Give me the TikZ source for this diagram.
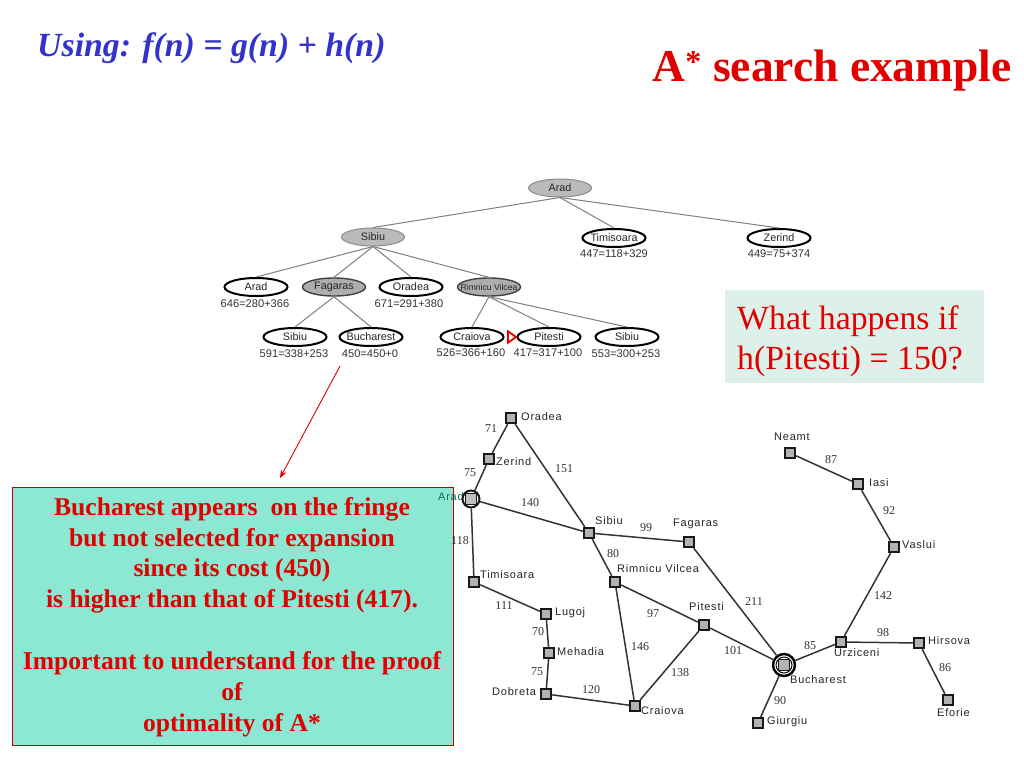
\documentclass[tikz,border=0pt]{standalone}
\usepackage{fontspec}
\setmainfont{Liberation Serif}
\newfontfamily\sansf{Liberation Sans}
\newfontfamily\cityf[LetterSpace=7]{Liberation Sans}
\usetikzlibrary{shapes.geometric,arrows.meta}
\definecolor{titleblue}{HTML}{3333CC}
\definecolor{redtxt}{HTML}{E00000}
\definecolor{tealbox}{HTML}{8CE8D2}
\definecolor{palebox}{HTML}{DDF1EA}
\definecolor{aradgreen}{HTML}{0B6B5B}
\newcommand{\nm}[1]{\makebox[0pt][c]{#1}}
\tikzset{
 x=1pt,y=-1pt,
 treeedge/.style={draw=black!50,line width=1pt},
 mapedge/.style={draw=black!80,line width=1.5pt},
 ell/.style={ellipse,minimum width=63pt,minimum height=18pt,inner sep=0pt,font=\sansf\fontsize{10.8}{11}\selectfont,text=black!85},
 leaf/.style={ell,draw=black,line width=2pt,fill=white},
 seen/.style={ell,draw=black!45,line width=1pt,fill=black!27},
 seendark/.style={ell,draw=black!75,line width=1.4pt,fill=black!32},
 cost/.style={font=\sansf\fontsize{11.1}{11}\selectfont,text=black!80,inner sep=0pt},
 city/.style={rectangle,draw=black!90,line width=1.9pt,fill=black!30,minimum size=10.5pt,inner sep=0pt},
 cname/.style={anchor=west,inner sep=0pt,font=\cityf\fontsize{11}{11}\selectfont,text=black!85},
 dist/.style={inner sep=0pt,font=\fontsize{12}{12}\selectfont,text=black!80},
}
\begin{document}
\begin{tikzpicture}
\useasboundingbox (0,0) rectangle (1024,768);
\fill[white] (0,0) rectangle (1024,768);
% titles
\node[anchor=west,inner sep=0pt,text=titleblue,font=\fontsize{33.8}{36}\selectfont\bfseries\itshape] (title) at (37,48) {Using: f(n) = g(n) + h(n)};
\node[anchor=east,inner sep=0pt,text=redtxt,font=\fontsize{45.5}{48}\selectfont\bfseries] (heading) at (1012,71) {A\textsuperscript{*} search example};
% boxes
\node[anchor=north west,fill=palebox,minimum width=259pt,minimum height=93pt,inner sep=0pt] (whatbox) at (725,290) {};
\node[anchor=west,inner sep=0pt,text=redtxt,font=\fontsize{33.8}{40}\selectfont,align=left] (whattext) at (737,341) {What happens if\\h(Pitesti) = 150?};
\node[anchor=north west,fill=tealbox,draw=red!75!black,line width=0.8pt,minimum width=441pt,minimum height=258pt,inner sep=0pt] (notebox) at (12,487) {};
\node[inner sep=0pt,text=redtxt,font=\fontsize{25.6}{30.9}\selectfont\bfseries,align=center] (notetext) at (232,617) {Bucharest appears\ \ on the fringe\\but not selected for expansion\\since its cost (450)\\is higher than that of Pitesti (417).\\[30.9pt]Important to understand for the proof\\of\\optimality of A*};
% search tree
\node[seen] (tArad) at (560,188) {Arad};
\node[seen] (tSibiu) at (373,237) {Sibiu};
\node[leaf] (tTim) at (614,238) {\nm{Timisoara}};
\node[leaf] (tZer) at (779,238) {Zerind};
\node[leaf] (tArad2) at (256,287) {Arad};
\node[seendark] (tFag) at (334,287) {Fagaras};
\node[leaf] (tOra) at (411,287) {Oradea};
\node[seendark,font=\sansf\fontsize{8.6}{10}\selectfont] (tRim) at (489,287) {\nm{Rimnicu Vilcea}};
\node[leaf] (tSib2) at (295,337) {Sibiu};
\node[leaf] (tBuc) at (371,337) {\nm{Bucharest}};
\node[leaf] (tCra) at (472,337) {Craiova};
\node[leaf] (tPit) at (549,337) {Pitesti};
\node[leaf] (tSib3) at (627,337) {Sibiu};
\foreach \a/\b in {tArad/tSibiu,tArad/tTim,tArad/tZer,tSibiu/tArad2,tSibiu/tFag,tSibiu/tOra,tSibiu/tRim,tFag/tSib2,tFag/tBuc,tRim/tCra,tRim/tPit,tRim/tSib3}
  \draw[treeedge] (\a.south) -- (\b.north);
\node[cost] (c1) at (614,254) {447=118+329};
\node[cost] (c2) at (779,254) {449=75+374};
\node[cost] (c3) at (255,304) {646=280+366};
\node[cost] (c4) at (409,304) {671=291+380};
\node[cost] (c5) at (294,354) {591=338+253};
\node[cost] (c6) at (370,354) {450=450+0};
\node[cost] (c7) at (471,353) {526=366+160};
\node[cost] (c8) at (548,353) {417=317+100};
\node[cost] (c9) at (626,354) {553=300+253};
\node[isosceles triangle,isosceles triangle apex angle=70,draw=red!90!black,line width=1.8pt,fill=white,minimum height=8pt,minimum width=11pt,inner sep=0pt] (marker) at (511,337) {};
\coordinate (arrowstart) at (340,366);
\coordinate (arrowend) at (280,478);
\draw[red!85!black,line width=0.9pt,-{Stealth[length=8pt,width=6pt]}] (arrowstart) -- (arrowend);
% map labels
\node[cname,text=aradgreen] (lArad) at (438,497) {Arad};
% map nodes
\node[city] (Ora) at (511,418) {};
\node[city] (Zer) at (489,459) {};
\node[circle,draw=black!90,line width=2pt,minimum size=17pt,inner sep=0pt] (Ara) at (471,499) {};
\node[city,fill=black!25,line width=1pt] (AraIn) at (471,499) {};
\node[city] (Tim) at (474,582) {};
\node[city] (Sib) at (589,533) {};
\node[city] (Fag) at (689,542) {};
\node[city] (Rim) at (615,582) {};
\node[city] (Lug) at (546,614) {};
\node[city] (Meh) at (549,653) {};
\node[city] (Dob) at (546,694) {};
\node[city] (Cra) at (635,706) {};
\node[city] (Pit) at (704,625) {};
\node[city] (Nea) at (790,453) {};
\node[city] (Ias) at (858,484) {};
\node[city] (Vas) at (894,547) {};
\node[city] (Urz) at (841,642) {};
\node[city] (Hir) at (919,643) {};
\node[city] (Efo) at (948,700) {};
\node[circle,draw=black,line width=2.4pt,minimum size=22pt,inner sep=0pt] (Buc) at (784,665) {};
\node[circle,draw=black,line width=1pt,minimum size=16pt,inner sep=0pt] (BucRing) at (784,665) {};
\node[city,line width=1pt] (BucIn) at (784,665) {};
\node[city] (Giu) at (758,723) {};
\foreach \a/\b in {Ora/Zer,Zer/Ara,Ora/Sib,Ara/Sib,Ara/Tim,Tim/Lug,Lug/Meh,Meh/Dob,Dob/Cra,Sib/Fag,Sib/Rim,Rim/Cra,Rim/Pit,Cra/Pit,Pit/Buc,Fag/Buc,Buc/Urz,Buc/Giu,Urz/Hir,Urz/Vas,Hir/Efo,Vas/Ias,Ias/Nea}
  \draw[mapedge] (\a) -- (\b);
% city names
\node[cname] (lOra) at (521,417) {Oradea};
\node[cname] (lZer) at (496,462) {Zerind};
\node[cname] (lSib) at (595,521) {Sibiu};
\node[cname] (lFag) at (673,524) {Fagaras};
\node[cname] (lRim) at (617,569) {Rimnicu Vilcea};
\node[cname] (lTim) at (480,575) {Timisoara};
\node[cname] (lPit) at (689,607) {Pitesti};
\node[cname] (lLug) at (555,613) {Lugoj};
\node[cname] (lMeh) at (557,652) {Mehadia};
\node[cname] (lDob) at (492,692) {Dobreta};
\node[cname] (lCra) at (641,711) {Craiova};
\node[cname] (lNea) at (774,437) {Neamt};
\node[cname] (lIas) at (869,483) {Iasi};
\node[cname] (lVas) at (902,545) {Vaslui};
\node[cname] (lHir) at (928,641) {Hirsova};
\node[cname] (lUrz) at (834,653) {Urziceni};
\node[cname] (lBuc) at (790,680) {Bucharest};
\node[cname] (lEfo) at (937,713) {Eforie};
\node[cname] (lGiu) at (767,722) {Giurgiu};
% distances
\foreach \n/\x/\y/\t in {d1/491/429/71,d2/470/473/75,d3/564/469/151,d4/530/503/140,d5/460/541/118,d6/646/528/99,d7/613/554/80,d8/504/606/111,d9/538/632/70,d10/537/672/75,d11/591/690/120,d12/653/614/97,d13/640/647/146,d14/680/673/138,d15/733/651/101,d16/754/602/211,d17/810/646/85,d18/831/460/87,d19/889/511/92,d20/883/596/142,d21/883/633/98,d22/945/668/86,d23/780/701/90}
  \node[dist] (\n) at (\x,\y) {\t};
\end{tikzpicture}
\end{document}
